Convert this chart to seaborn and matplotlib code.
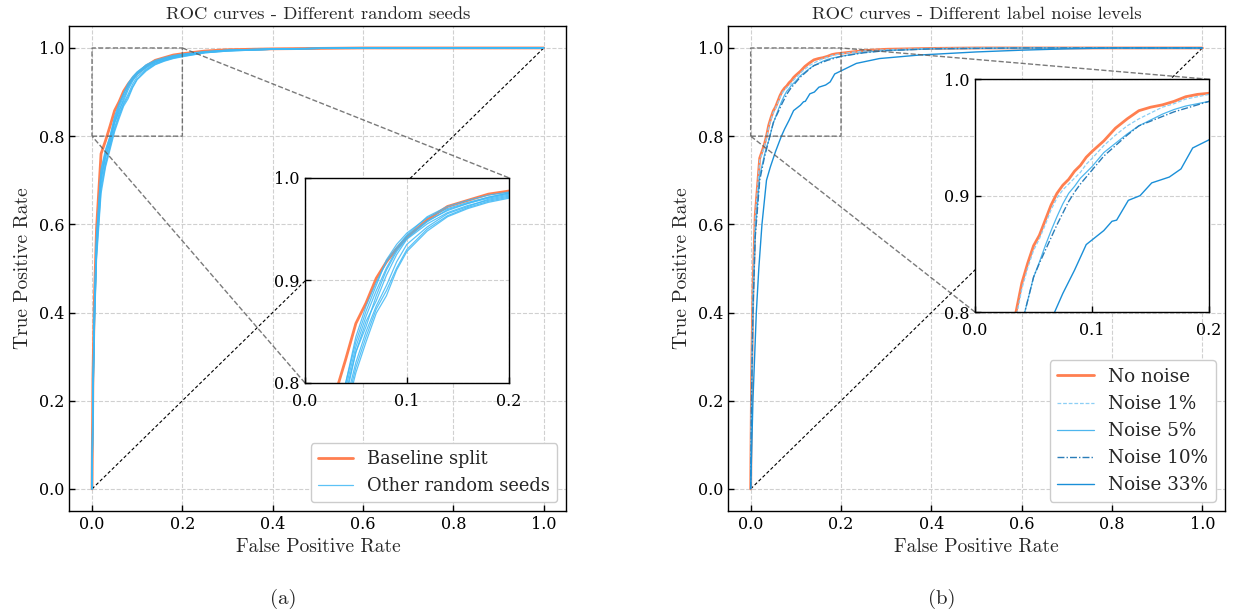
import matplotlib
matplotlib.use("Agg")
import matplotlib.pyplot as plt
import seaborn as sns

# ------------------------------------------------------------------ #
# Data
# ------------------------------------------------------------------ #
SEED_FPR = [0, 0.002, 0.005, 0.01, 0.02, 0.03, 0.04, 0.05, 0.06, 0.07, 0.08,
            0.09, 0.10, 0.12, 0.14, 0.16, 0.18, 0.20, 0.25, 0.30, 0.40, 0.50,
            0.60, 1.0]
BASELINE_TPR = [0, 0.25, 0.42, 0.59, 0.76, 0.79, 0.823, 0.858, 0.878, 0.902,
                0.918, 0.931, 0.942, 0.959, 0.972, 0.978, 0.984, 0.987, 0.993,
                0.996, 0.998, 0.999, 1.0, 1.0]
SEED_TPRS = [
    [0, 0.22, 0.40, 0.57, 0.72, 0.765, 0.80, 0.84, 0.87, 0.895, 0.92, 0.935,
     0.946, 0.961, 0.970, 0.976, 0.981, 0.985, 0.991, 0.995, 0.998, 0.999, 1.0, 1.0],
    [0, 0.21, 0.39, 0.56, 0.71, 0.76, 0.795, 0.835, 0.865, 0.89, 0.912, 0.93,
     0.943, 0.958, 0.968, 0.975, 0.980, 0.984, 0.990, 0.994, 0.997, 0.999, 1.0, 1.0],
    [0, 0.20, 0.38, 0.55, 0.70, 0.75, 0.79, 0.83, 0.86, 0.88, 0.905, 0.925,
     0.940, 0.955, 0.966, 0.973, 0.978, 0.982, 0.990, 0.994, 0.997, 0.999, 1.0, 1.0],
    [0, 0.19, 0.37, 0.54, 0.69, 0.74, 0.78, 0.82, 0.85, 0.875, 0.895, 0.918,
     0.935, 0.952, 0.965, 0.972, 0.979, 0.983, 0.990, 0.994, 0.997, 0.999, 1.0, 1.0],
    [0, 0.18, 0.36, 0.53, 0.68, 0.735, 0.775, 0.815, 0.845, 0.872, 0.89, 0.912,
     0.930, 0.950, 0.963, 0.971, 0.977, 0.981, 0.989, 0.993, 0.997, 0.999, 1.0, 1.0],
    [0, 0.23, 0.41, 0.575, 0.725, 0.77, 0.80, 0.845, 0.875, 0.898, 0.918, 0.932,
     0.944, 0.962, 0.972, 0.978, 0.983, 0.986, 0.992, 0.995, 0.998, 0.999, 1.0, 1.0],
    [0, 0.20, 0.385, 0.555, 0.705, 0.755, 0.785, 0.83, 0.855, 0.885, 0.91, 0.928,
     0.941, 0.957, 0.969, 0.975, 0.981, 0.985, 0.991, 0.995, 0.998, 0.999, 1.0, 1.0],
    [0, 0.17, 0.35, 0.52, 0.67, 0.73, 0.77, 0.81, 0.84, 0.868, 0.885, 0.91,
     0.928, 0.948, 0.962, 0.970, 0.976, 0.980, 0.989, 0.993, 0.997, 0.999, 1.0, 1.0],
]

NOISE_FPR = [0, 0.002, 0.005, 0.01, 0.02, 0.03, 0.035, 0.04, 0.045, 0.05, 0.055,
             0.06, 0.065, 0.07, 0.075, 0.08, 0.085, 0.09, 0.095, 0.10, 0.11, 0.12,
             0.13, 0.14, 0.15, 0.16, 0.17, 0.18, 0.19, 0.20, 0.25, 0.30, 0.40,
             0.50, 0.60, 1.0]
NO_NOISE_TPR = [0, 0.25, 0.45, 0.62, 0.75, 0.78, 0.80, 0.825, 0.842, 0.857, 0.866,
                0.879, 0.892, 0.902, 0.909, 0.914, 0.921, 0.926, 0.933, 0.938,
                0.947, 0.958, 0.966, 0.973, 0.976, 0.978, 0.981, 0.985, 0.987,
                0.988, 0.994, 0.997, 0.999, 1.0, 1.0, 1.0]
NOISE1_TPR = [0, 0.24, 0.44, 0.61, 0.745, 0.775, 0.795, 0.82, 0.838, 0.853, 0.863,
              0.875, 0.888, 0.898, 0.905, 0.91, 0.915, 0.92, 0.927, 0.932, 0.943,
              0.952, 0.96, 0.966, 0.971, 0.976, 0.979, 0.983, 0.985, 0.987, 0.993,
              0.996, 0.999, 1.0, 1.0, 1.0]
NOISE5_TPR = [0, 0.22, 0.41, 0.58, 0.71, 0.755, 0.775, 0.79, 0.81, 0.83, 0.843,
              0.857, 0.87, 0.882, 0.893, 0.902, 0.908, 0.915, 0.92, 0.925, 0.937,
              0.945, 0.953, 0.96, 0.965, 0.97, 0.974, 0.977, 0.979, 0.981, 0.990,
              0.994, 0.998, 0.999, 1.0, 1.0]
NOISE10_TPR = [0, 0.21, 0.40, 0.57, 0.70, 0.75, 0.77, 0.79, 0.81, 0.83, 0.842,
               0.853, 0.864, 0.875, 0.885, 0.895, 0.903, 0.91, 0.916, 0.922, 0.934,
               0.943, 0.952, 0.96, 0.964, 0.968, 0.972, 0.975, 0.978, 0.981, 0.989,
               0.994, 0.998, 0.999, 1.0, 1.0]
NOISE33_FPR = [0, 0.005, 0.0125, 0.018, 0.025, 0.035, 0.0435, 0.055, 0.068, 0.075,
               0.085, 0.095, 0.11, 0.117, 0.121, 0.131, 0.141, 0.151, 0.166, 0.176,
               0.186, 0.20, 0.234, 0.285, 0.374, 0.50, 0.60, 0.70, 0.80, 1.0]
NOISE33_TPR = [0, 0.2, 0.4, 0.5, 0.6, 0.7, 0.73, 0.765, 0.80, 0.816, 0.836, 0.858,
               0.87, 0.878, 0.879, 0.896, 0.90, 0.911, 0.916, 0.923, 0.941, 0.948,
               0.965, 0.976, 0.984, 0.991, 0.995, 0.998, 1.0, 1.0]

CHANCE = [0.0, 1.0]
MAIN_TICKS = [0.0, 0.2, 0.4, 0.6, 0.8, 1.0]
ZOOM_X_TICKS = [0.0, 0.1, 0.2]
ZOOM_Y_TICKS = [0.8, 0.9, 1.0]

ORANGE = "#ff7f50"
SEED_BLUE = "#3fb8f5"

# ------------------------------------------------------------------ #
# Style
# ------------------------------------------------------------------ #
sns.set_theme(style="whitegrid")
plt.rcParams.update({
    "font.family": ["DejaVu Serif"],
    "axes.edgecolor": "black",
    "axes.linewidth": 1.0,
    "grid.color": "#d0d0d0",
    "grid.linestyle": "--",
    "grid.linewidth": 0.8,
    "xtick.direction": "in",
    "ytick.direction": "in",
    "xtick.bottom": True,
    "ytick.left": True,
    "xtick.major.size": 4,
    "ytick.major.size": 4,
    "xtick.major.width": 1.0,
    "ytick.major.width": 1.0,
    "xtick.labelsize": 11.5,
    "ytick.labelsize": 11.5,
    "xtick.color": "black",
    "ytick.color": "black",
})
CM = ["cmr10", "DejaVu Serif"]

fig = plt.figure(figsize=(12.33, 6.14), dpi=100)
ax_a = fig.add_axes([0.0563, 0.1678, 0.403, 0.790])
ax_b = fig.add_axes([0.5905, 0.1678, 0.403, 0.790])


def style_main(ax, title):
    ax.set_xlim(-0.05, 1.05)
    ax.set_ylim(-0.05, 1.05)
    ax.set_xticks(MAIN_TICKS)
    ax.set_yticks(MAIN_TICKS)
    ax.set_title(title, family=CM, fontsize=13.4, pad=5)
    ax.set_xlabel("False Positive Rate", family=CM, fontsize=14, labelpad=4)
    ax.set_ylabel("True Positive Rate", family=CM, fontsize=14, labelpad=5)
    sns.lineplot(x=CHANCE, y=CHANCE, ax=ax, color="black", lw=0.8,
                 linestyle=(0, (3, 2)), legend=False)


def make_inset(ax, bounds):
    axins = ax.inset_axes(bounds)
    axins.set_xlim(0.0, 0.2)
    axins.set_ylim(0.8, 1.0)
    axins.set_xticks(ZOOM_X_TICKS)
    axins.set_yticks(ZOOM_Y_TICKS)
    axins.tick_params(axis="x", pad=7)
    axins.tick_params(axis="y", pad=4)
    axins.set_facecolor("white")
    for s in axins.spines.values():
        s.set_color("black")
    ax.indicate_inset_zoom(axins, edgecolor="0.35", alpha=0.8,
                           linestyle="--", linewidth=1.0)
    return axins


# ------------------------------------------------------------------ #
# (a) random seeds
# ------------------------------------------------------------------ #
style_main(ax_a, "ROC curves - Different random seeds")
ins_a = make_inset(ax_a, [0.474, 0.264, 0.410, 0.423])

for target in (ax_a, ins_a):
    for i, tpr in enumerate(SEED_TPRS):
        sns.lineplot(x=SEED_FPR, y=tpr, ax=target, color=SEED_BLUE, lw=0.9,
                     alpha=0.85, legend=False,
                     label="Other random seeds" if (i == 0 and target is ax_a) else None)
    sns.lineplot(x=SEED_FPR, y=BASELINE_TPR, ax=target, color=ORANGE, lw=2,
                 legend=False, zorder=1,
                 label="Baseline split" if target is ax_a else None)

h, l = ax_a.get_legend_handles_labels()
order = [l.index("Baseline split"), l.index("Other random seeds")]
ax_a.legend([h[i] for i in order], [l[i] for i in order], loc="lower right",
            fontsize=12.8, frameon=True, fancybox=True, framealpha=1,
            edgecolor="#cccccc")

# ------------------------------------------------------------------ #
# (b) label noise
# ------------------------------------------------------------------ #
style_main(ax_b, "ROC curves - Different label noise levels")
ins_b = make_inset(ax_b, [0.497, 0.410, 0.471, 0.480])

noise_series = [
    ("No noise", NOISE_FPR, NO_NOISE_TPR, ORANGE, "-", 2.0),
    ("Noise 1%", NOISE_FPR, NOISE1_TPR, "#8ccff5", (0, (3, 1.5)), 0.9),
    ("Noise 5%", NOISE_FPR, NOISE5_TPR, "#4db6ee", "-", 0.9),
    ("Noise 10%", NOISE_FPR, NOISE10_TPR, "#2a7db8", (0, (5, 1.5, 1, 1.5)), 1.0),
    ("Noise 33%", NOISE33_FPR, NOISE33_TPR, "#1a8fd8", "-", 1.0),
]
for target in (ax_b, ins_b):
    for name, fpr, tpr, col, ls, lw in noise_series:
        sns.lineplot(x=fpr, y=tpr, ax=target, color=col, lw=lw, linestyle=ls,
                     legend=False, label=name if target is ax_b else None)

ax_b.legend(loc="lower right", fontsize=13.2, frameon=True, fancybox=True,
            framealpha=1, edgecolor="#cccccc")

fig.text(0.2295, 0.016, "(a)", family=CM, fontsize=15, ha="center")
fig.text(0.764, 0.016, "(b)", family=CM, fontsize=15, ha="center")

fig.savefig("out.png", dpi=100)
